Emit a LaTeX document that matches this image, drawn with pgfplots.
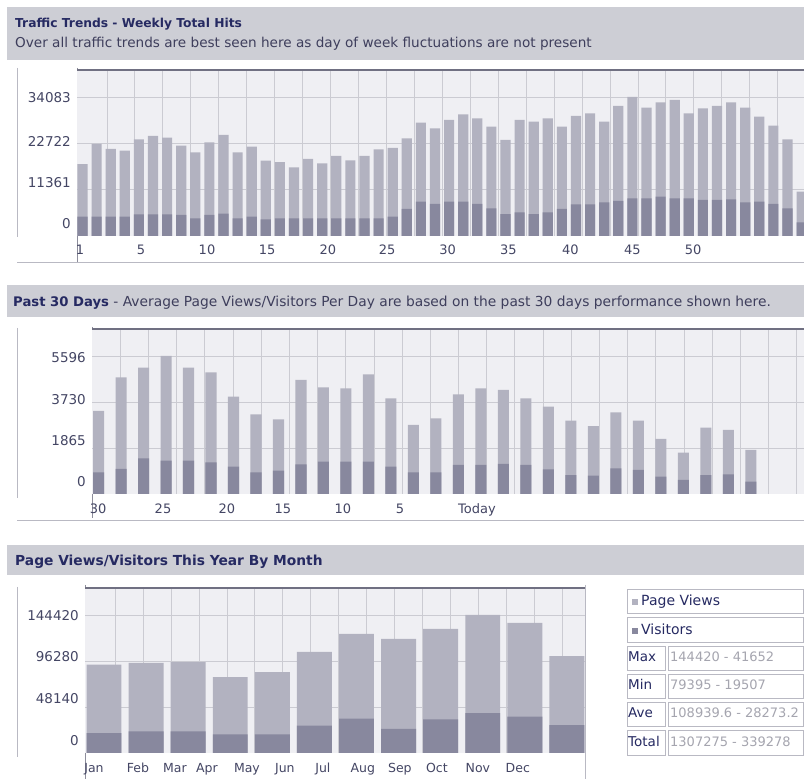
\documentclass[border=0pt]{standalone}
\usepackage{fontspec}
\setmainfont{DejaVu Sans}
\usepackage{pgfplots}
\pgfplotsset{compat=1.18}
\usepackage{pgfplotstable}
\newcommand{\fs}[1]{\fontsize{#1}{#1}\selectfont}
\definecolor{hdr}{RGB}{205,206,213}
\definecolor{titlecol}{RGB}{38,42,98}
\definecolor{subcol}{RGB}{62,62,92}
\definecolor{plotbg}{RGB}{239,239,243}
\definecolor{topb}{RGB}{112,112,130}
\definecolor{gridc}{RGB}{203,203,210}
\definecolor{pv}{RGB}{178,178,192}
\definecolor{vis}{RGB}{136,136,158}
\definecolor{framec}{RGB}{185,185,195}
\definecolor{tickc}{RGB}{68,70,100}
\definecolor{valc}{RGB}{165,165,175}

\pgfplotstableread{
i pv vis
1 17600 4730
2 22560 4730
3 21330 4730
4 20920 4730
5 23700 5320
6 24520 5320
7 24110 5320
8 22150 5150
9 20520 4340
10 22970 5150
11 24770 5470
12 20520 4340
13 21900 4730
14 18470 4100
15 18140 4340
16 16840 4340
17 18880 4340
18 17820 4340
19 19620 4340
20 18560 4340
21 19620 4340
22 21250 4340
23 21580 4730
24 23950 6620
25 27790 8420
26 26400 7850
27 28440 8420
28 29830 8420
29 28850 7850
30 26800 6780
31 23540 5390
32 28440 5800
33 28030 5390
34 28850 5800
35 26800 6620
36 29420 7770
37 30080 7770
38 28030 8260
39 31880 8580
40 34083 9240
41 31460 9240
42 32780 9640
43 33350 9240
44 30080 9240
45 31310 8830
46 31880 8830
47 32780 8980
48 31460 8260
49 29250 8420
50 27050 7850
51 23700 6780
52 10860 3360
}\weekly

\pgfplotstableread{
i pv vis
1 3366 880
2 4732 1014
3 5122 1448
4 5596 1350
5 5122 1350
6 4935 1285
7 3946 1107
8 3232 880
9 3029 945
10 4623 1204
11 4327 1310
12 4286 1310
13 4854 1310
14 3881 1107
15 2798 880
16 3070 880
17 4043 1176
18 4286 1176
19 4217 1217
20 3881 1176
21 3540 1002
22 2972 770
23 2757 742
24 3313 1042
25 2972 973
26 2230 702
27 1675 568
28 2688 770
29 2595 799
30 1784 499
}\daily

\pgfplotstableread{
i pv vis
1 92500 20800
2 94300 22550
3 95000 22550
4 79395 19507
5 84500 19600
6 105800 28690
7 124600 36020
8 119400 25250
9 129900 35290
10 144420 41652
11 136100 38110
12 101360 29259
}\monthly

\pgfplotsset{panel/.style={
  scale only axis, anchor=south west, clip=true,
  axis line style={draw=none}, tick style={draw=none},
  major tick length=0pt, minor tick length=0pt,
  axis background/.style={fill=plotbg},
  ymin=0, scaled y ticks=false, scaled x ticks=false,
  yticklabel style={font=\fs{13.5}, text=tickc, anchor=east, inner sep=0pt, xshift=-6pt},
  xticklabel style={font=\fs{13}, text=tickc, anchor=base, inner sep=0pt},
  xminorgrids=true,
  minor grid style={gridc, line width=0.8pt},
  extra y tick labels={},
  extra y tick style={grid=major, major grid style={gridc, line width=0.8pt}},
}}

\begin{document}
\begin{tikzpicture}[x=1pt,y=1pt]
\useasboundingbox (0,0) rectangle (804,779);
\fill[white] (0,0) rectangle (804,779);

% ---------- Panel 1 ----------
\fill[hdr] (7,772) rectangle (804,719);
\node[anchor=base west, inner sep=0pt, font=\bfseries\fs{12.3}, text=titlecol] at (15,751) {Traffic Trends - Weekly Total Hits};
\node[anchor=base west, inner sep=0pt, font=\fs{13.6}, text=subcol] at (15,731) {Over all traffic trends are best seen here as day of week fluctuations are not present};
\draw[framec] (17,711) -- (17,542);
\draw[framec] (17,517) -- (804,517);
\draw[topb!80, line width=1pt] (77,711) -- (77,517);
\begin{axis}[panel, at={(77pt,543pt)}, width=727pt, height=166pt,
  xmin=0.61, xmax=52.17, ymax=40700,
  xtick={0.82,5.15,9.83,14.1,18.4,22.6,26.9,31.2,35.6,40.0,44.3},
  xticklabels={1,5,10,15,20,25,30,35,40,45,50},
  xticklabel style={yshift=-19pt},
  minor xtick={2.734,4.716,...,52.2},
  ytick={2940,13000,23290,33840}, yticklabels={0,11361,22722,34083},
  extra y ticks={11361,22722,34083}]
\addplot[ybar, bar width=0.72, bar shift=0pt, fill=pv, draw=none] table[x=i,y=pv]{\weekly};
\addplot[ybar, bar width=0.72, bar shift=0pt, fill=vis, draw=none] table[x=i,y=vis]{\weekly};
\draw[topb, line width=3pt] (rel axis cs:0,1) -- (rel axis cs:1,1);
\draw[framec] (rel axis cs:0,0) -- (rel axis cs:1,0);
\end{axis}

% ---------- Panel 2 ----------
\fill[hdr] (7,494) rectangle (804,462);
\node[anchor=base west, inner sep=0pt, font=\fs{13.8}, text=subcol] at (13,472) {\textcolor{titlecol}{\bfseries\fs{13.2}Past 30 Days} - Average Page Views/Visitors Per Day are based on the past 30 days performance shown here.};
\draw[framec] (17,451) -- (17,281);
\draw[framec] (17,259) -- (804,259);
\draw[topb!80, line width=1pt] (92,452) -- (92,261);
\begin{axis}[panel, at={(92pt,285pt)}, width=712pt, height=165pt,
  xmin=0.71, xmax=32.36, ymax=6691,
  xtick={0.978,3.867,6.711,9.2,11.867,14.4,17.82},
  xticklabels={30,25,20,15,10,5,Today},
  xticklabel style={yshift=-20pt},
  minor xtick={1.964,3.217,...,32.3},
  ytick={487,2149,3812,5515}, yticklabels={0,1865,3730,5596},
  extra y ticks={1865,3730,5596}]
\addplot[ybar, bar width=0.49, bar shift=0pt, fill=pv, draw=none] table[x=i,y=pv]{\daily};
\addplot[ybar, bar width=0.49, bar shift=0pt, fill=vis, draw=none] table[x=i,y=vis]{\daily};
\draw[topb, line width=3pt] (rel axis cs:0,1) -- (rel axis cs:1,1);
\draw[framec] (rel axis cs:0,0) -- (rel axis cs:1,0);
\end{axis}

% ---------- Panel 3 ----------
\fill[hdr] (7,234) rectangle (804,204);
\node[anchor=base west, inner sep=0pt, font=\bfseries\fs{13.8}, text=titlecol] at (15,213) {Page Views/Visitors This Year By Month};
\draw[framec] (17,192) -- (17,22);
\draw[topb!80, line width=1pt] (85,194) -- (85,0);
\draw[framec] (585,194) -- (585,0);
\begin{axis}[panel, at={(85pt,26pt)}, width=500pt, height=165pt,
  xmin=0.549, xmax=12.43, ymax=172670,
  xtick={0.762,1.808,2.686,3.447,4.397,5.299,6.202,7.152,8.031,8.910,9.884,10.834},
  xticklabels={Jan,Feb,Mar,Apr,May,Jun,Jul,Aug,Sep,Oct,Nov,Dec},
  xticklabel style={yshift=-20pt, font=\fs{12.5}},
  minor xtick={1.261,1.926,...,12.4},
  ytick={12560,56510,100460,143370}, yticklabels={0,48140,96280,144420},
  extra y ticks={48140,96280,144420}]
\addplot[ybar, bar width=0.83, bar shift=0pt, fill=pv, draw=none] table[x=i,y=pv]{\monthly};
\addplot[ybar, bar width=0.83, bar shift=0pt, fill=vis, draw=none] table[x=i,y=vis]{\monthly};
\draw[topb, line width=3pt] (rel axis cs:0,1) -- (rel axis cs:1,1);
\draw[framec] (rel axis cs:0,0) -- (rel axis cs:1,0);
\end{axis}

% legend table
\begin{scope}[framec]
\draw (627,190) rectangle (803,166);
\draw (627,162) rectangle (803,137);
\foreach \t/\b in {133/109,105/81,77/53,49/24} {
  \draw (627,\t) rectangle (665,\b);
  \draw (668,\t) rectangle (803,\b);
}
\end{scope}
\fill[pv] (632,174) rectangle (638,180);
\fill[vis] (632,145) rectangle (638,151);
\node[anchor=base west, inner sep=0pt, font=\fs{14}, text=titlecol] at (641,173) {Page Views};
\node[anchor=base west, inner sep=0pt, font=\fs{14}, text=titlecol] at (641,144) {Visitors};
\node[anchor=base west, inner sep=0pt, font=\fs{13.5}, text=titlecol] at (628,117) {Max};
\node[anchor=base west, inner sep=0pt, font=\fs{13.5}, text=titlecol] at (628,89) {Min};
\node[anchor=base west, inner sep=0pt, font=\fs{13.5}, text=titlecol] at (628,61) {Ave};
\node[anchor=base west, inner sep=0pt, font=\fs{13.5}, text=titlecol] at (628,32) {Total};
\node[anchor=base west, inner sep=0pt, font=\fs{13}, text=valc] at (670,117) {144420 - 41652};
\node[anchor=base west, inner sep=0pt, font=\fs{13}, text=valc] at (670,89) {79395 - 19507};
\node[anchor=base west, inner sep=0pt, font=\fs{13}, text=valc] at (670,61) {108939.6 - 28273.2};
\node[anchor=base west, inner sep=0pt, font=\fs{13}, text=valc] at (670,32) {1307275 - 339278};
\end{tikzpicture}
\end{document}
